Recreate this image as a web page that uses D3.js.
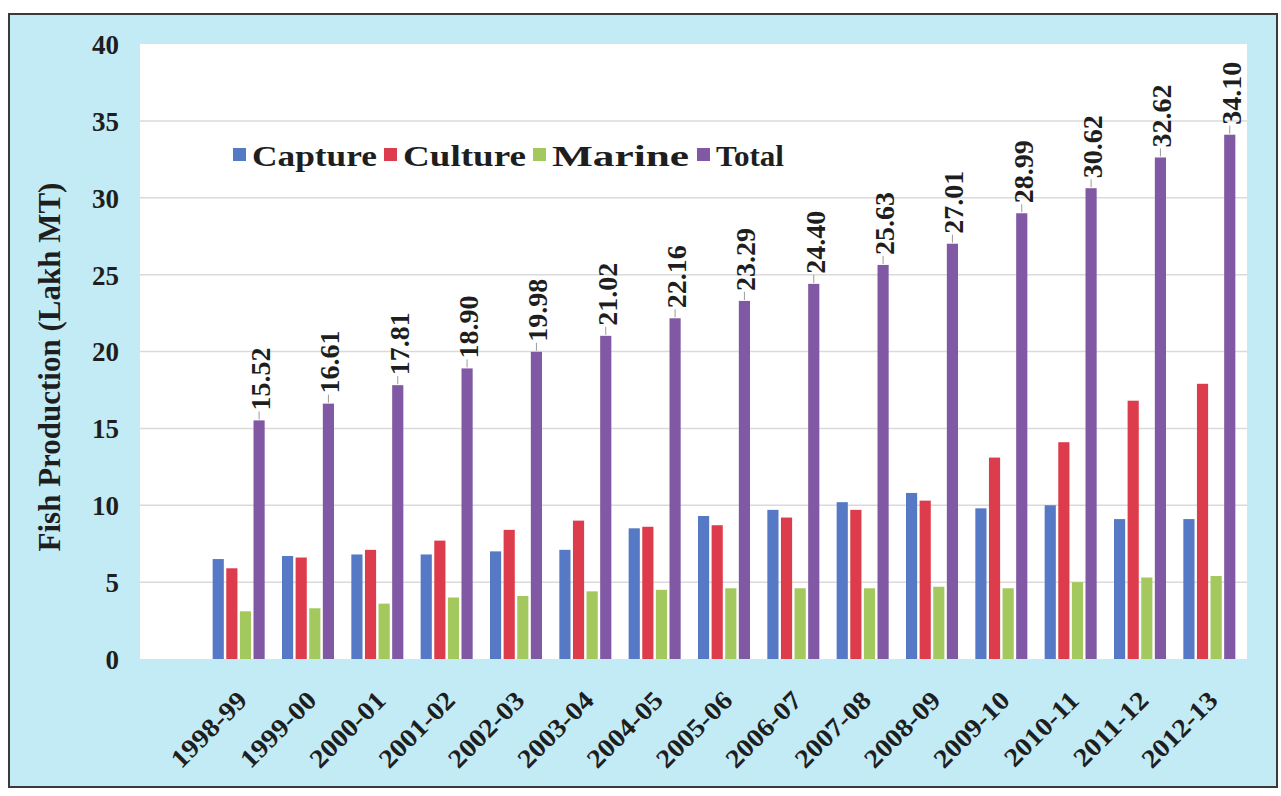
<!DOCTYPE html>
<html>
<head>
<meta charset="utf-8">
<script src="https://cdn.jsdelivr.net/npm/d3@7"></script>
<style>
  html, body { margin: 0; padding: 0; background: #ffffff; }
  svg { display: block; }
</style>
</head>
<body>
<svg id="chart" width="1281" height="796"></svg>
<script>
// Fish production by year (Lakh MT)
const years = ["1998-99","1999-00","2000-01","2001-02","2002-03","2003-04","2004-05",
               "2005-06","2006-07","2007-08","2008-09","2009-10","2010-11","2011-12","2012-13"];
const capture = [6.5, 6.7, 6.8, 6.8, 7.0, 7.1, 8.5, 9.3, 9.7, 10.2, 10.8, 9.8, 10.0, 9.1, 9.1];
const culture = [5.9, 6.6, 7.1, 7.7, 8.4, 9.0, 8.6, 8.7, 9.2, 9.7, 10.3, 13.1, 14.1, 16.8, 17.9];
const marine  = [3.1, 3.3, 3.6, 4.0, 4.1, 4.4, 4.5, 4.6, 4.6, 4.6, 4.7, 4.6, 5.0, 5.3, 5.4];
const total   = [15.52, 16.61, 17.81, 18.90, 19.98, 21.02, 22.16, 23.29, 24.40, 25.63, 27.01, 28.99, 30.62, 32.62, 34.10];
const seriesNames = ["Capture", "Culture", "Marine", "Total"];
const yTicks = [0, 5, 10, 15, 20, 25, 30, 35, 40];

const seriesValues = [capture, culture, marine, total];
const colors = ["#5679c6", "#dc3c4c", "#a3c85e", "#8058a3"];
const FONT = "'Liberation Serif', 'Times New Roman', serif";
const INK = "#1e1e1e";

const svg = d3.select("#chart")
  .attr("font-family", FONT)
  .attr("font-weight", "bold");

// Stretch a text element horizontally along its baseline
function widen(sel, factor) {
  sel.each(function () {
    const w = this.getComputedTextLength();
    d3.select(this).attr("textLength", w * factor).attr("lengthAdjust", "spacingAndGlyphs");
  });
}

// Outer frame with light blue fill
svg.append("rect")
  .attr("x", 9).attr("y", 14).attr("width", 1268).attr("height", 773)
  .attr("fill", "#c3ebf5").attr("stroke", "#3a3a3a").attr("stroke-width", 2);

// Plot area
const plot = { left: 140, right: 1247, top: 44, bottom: 659 };
svg.append("rect")
  .attr("x", plot.left).attr("y", plot.top)
  .attr("width", plot.right - plot.left).attr("height", plot.bottom - plot.top)
  .attr("fill", "#ffffff");

const y = d3.scaleLinear().domain([0, 40]).range([plot.bottom, plot.top]);
const x = d3.scaleBand().domain(years).range([204, 1244]).paddingInner(0.25).paddingOuter(0.125);
const xSub = d3.scaleBand().domain(seriesNames).range([0, x.bandwidth()]).paddingInner(0.18);

// Horizontal gridlines
svg.append("g").selectAll("line")
  .data(yTicks.filter(t => t > 0 && t < 40))
  .join("line")
  .attr("x1", plot.left).attr("x2", plot.right)
  .attr("y1", d => y(d)).attr("y2", d => y(d))
  .attr("stroke", "#dadada").attr("stroke-width", 1.5);

// Y axis tick labels
const yAxis = d3.axisLeft(y).tickValues(yTicks).tickSize(0).tickPadding(0);
const yg = svg.append("g").attr("transform", "translate(119,0)").call(yAxis);
yg.select(".domain").remove();
yg.attr("font-family", FONT);
yg.selectAll("text")
  .attr("font-size", 27).attr("font-weight", "bold")
  .attr("fill", INK).attr("dy", "0.35em");

// Y axis title
svg.append("text")
  .attr("transform", "translate(60,367) rotate(-90)")
  .attr("text-anchor", "middle")
  .attr("font-size", 31)
  .attr("fill", INK)
  .text("Fish Production (Lakh MT)");

// Bars
const rows = years.map((yr, i) => ({ yr, vals: seriesValues.map(s => s[i]) }));
const groups = svg.append("g").selectAll("g")
  .data(rows).join("g")
  .attr("transform", d => `translate(${x(d.yr)},0)`);

groups.selectAll("rect")
  .data(d => d.vals.map((v, k) => ({ name: seriesNames[k], v, k })))
  .join("rect")
  .attr("x", d => xSub(d.name))
  .attr("width", xSub.bandwidth())
  .attr("y", d => y(d.v))
  .attr("height", d => y(0) - y(d.v))
  .attr("fill", d => colors[d.k]);

// Total value labels with leader lines
const totalX = i => x(years[i]) + xSub("Total") + xSub.bandwidth() / 2;
svg.append("g").selectAll("line")
  .data(total).join("line")
  .attr("x1", (d, i) => totalX(i)).attr("x2", (d, i) => totalX(i))
  .attr("y1", d => y(d) - 1).attr("y2", d => y(d) - 9)
  .attr("stroke", "#9a9a9a").attr("stroke-width", 1);

svg.append("g").selectAll("text")
  .data(total).join("text")
  .attr("transform", (d, i) => `translate(${totalX(i) + 1},${y(d) - 10}) rotate(-90)`)
  .attr("dy", "0.35em")
  .attr("font-size", 28)
  .attr("fill", INK)
  .text(d => d.toFixed(2));

// X axis labels
svg.append("g").selectAll("text")
  .data(years).join("text")
  .attr("transform", d => `translate(${x(d) + x.bandwidth() / 2 + 10},${plot.bottom + 43}) rotate(-45)`)
  .attr("text-anchor", "end")
  .attr("font-size", 26)
  .attr("fill", INK)
  .text(d => d)
  .call(widen, 1.1);

// Legend
const legendX = [233, 384, 533, 697];
const legendLen = [125, 123, 137, 68];
const legend = svg.append("g").selectAll("g")
  .data(seriesNames).join("g")
  .attr("transform", (d, i) => `translate(${legendX[i]},155)`);
legend.append("rect")
  .attr("x", 0).attr("y", -7).attr("width", 13).attr("height", 13)
  .attr("fill", (d, i) => colors[i]);
legend.append("text")
  .attr("x", 19).attr("y", 0).attr("dy", "0.35em")
  .attr("font-size", 30)
  .attr("fill", INK)
  .attr("textLength", (d, i) => legendLen[i])
  .attr("lengthAdjust", "spacingAndGlyphs")
  .text(d => d);
</script>
</body>
</html>
